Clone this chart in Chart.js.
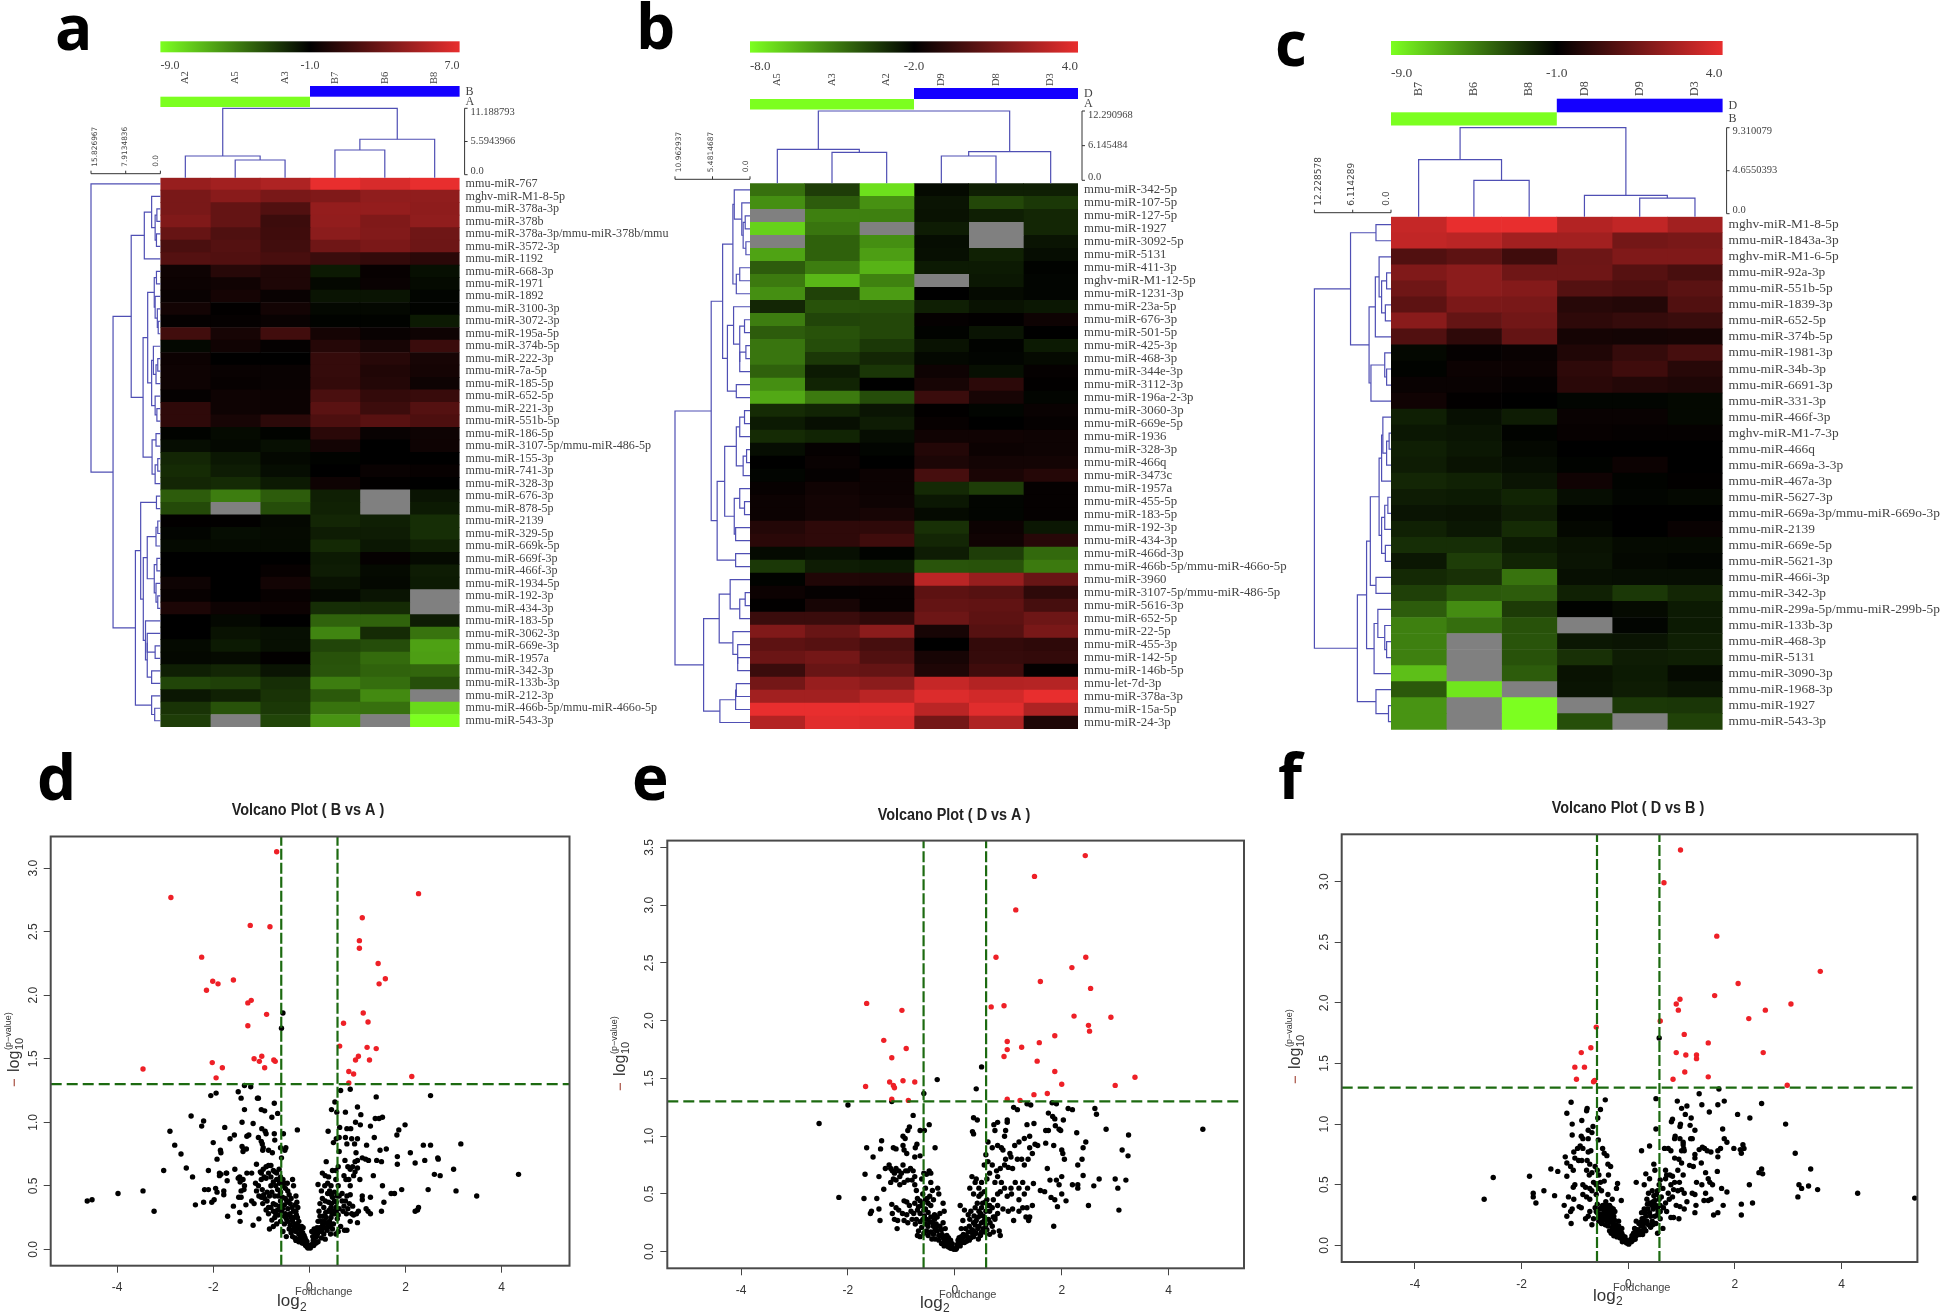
<!DOCTYPE html>
<html>
<head>
<meta charset="utf-8">
<title>miRNA heatmaps and volcano plots</title>
<script src="https://cdn.jsdelivr.net/npm/chart.js@4"></script>
<style>
  html, body { margin: 0; padding: 0; background: #fff; }
  body { width: 1946px; height: 1315px; position: relative; overflow: hidden; }
  canvas { position: absolute; }
</style>
</head>
<body>
<script>
// levels run -10 (full green) .. 0 (black) .. 10 (full red), null is a missing (grey) cell
var namesA = ["mmu-miR-767","mghv-miR-M1-8-5p","mmu-miR-378a-3p","mmu-miR-378b","mmu-miR-378a-3p/mmu-miR-378b/mmu","mmu-miR-3572-3p","mmu-miR-1192","mmu-miR-668-3p","mmu-miR-1971","mmu-miR-1892","mmu-miR-3100-3p","mmu-miR-3072-3p","mmu-miR-195a-5p","mmu-miR-374b-5p","mmu-miR-222-3p","mmu-miR-7a-5p","mmu-miR-185-5p","mmu-miR-652-5p","mmu-miR-221-3p","mmu-miR-551b-5p","mmu-miR-186-5p","mmu-miR-3107-5p/mmu-miR-486-5p","mmu-miR-155-3p","mmu-miR-741-3p","mmu-miR-328-3p","mmu-miR-676-3p","mmu-miR-878-5p","mmu-miR-2139","mmu-miR-329-5p","mmu-miR-669k-5p","mmu-miR-669f-3p","mmu-miR-466f-3p","mmu-miR-1934-5p","mmu-miR-192-3p","mmu-miR-434-3p","mmu-miR-183-5p","mmu-miR-3062-3p","mmu-miR-669e-3p","mmu-miR-1957a","mmu-miR-342-3p","mmu-miR-133b-3p","mmu-miR-212-3p","mmu-miR-466b-5p/mmu-miR-466o-5p","mmu-miR-543-3p"];
var samplesA = ["A2","A5","A3","B7","B6","B8"];
var heatA = [
  [6.5,7,7.5,10,9.3,10],[5.2,5.9,5.2,5.5,6.2,6.2],[5.2,4.3,3.5,6.4,6.4,6.1],[5.5,4.3,2.6,6.3,5.5,6.2],
  [4.4,3.4,2.7,6,5.6,4.8],[3.2,3.6,2.8,4.8,5.3,4.7],[3.6,3.5,3.1,2.5,2.2,1.8],[.6,1.7,1.3,-1,.3,-.6],
  [.5,.7,1.3,-.3,.4,-.4],[.4,.9,.4,-.8,-.8,-.2],[.8,.1,.8,-.3,-.3,-.1],[.2,.2,.4,-.1,-.1,-1],
  [2.8,1,2.8,.9,.4,.6],[-.3,.7,.2,1.6,1,2.5],[.5,0,0,2.3,1.7,1],[.6,.4,.4,2.3,1.4,.9],
  [.6,.3,.4,2.2,1.5,.6],[.2,.6,.5,3.2,2.2,2.4],[2,.6,.5,3.9,2.6,3.6],[2,1,1.9,3.3,3.8,3.3],
  [-.1,-.4,-.1,1.8,.4,.6],[-.5,-.3,-.6,.8,0,.6],[-1.5,-.9,-.3,-.1,0,0],[-1.7,-1.1,-.5,0,.4,.3],
  [-1.5,-1.7,-1,.6,.1,0],[-3.6,-4.9,-3.6,-1.2,null,-.8],[-2.9,null,-3,-1.3,null,-1],[.1,.1,-.3,-1.5,-1.2,-1.8],
  [-.2,-.5,-.4,-1.1,-1.1,-1.8],[-.4,-.4,-.4,-1.6,-.9,-1.3],[0,0,0,-1,.2,-.4],[0,0,.3,-1.1,-.4,-1.1],
  [.6,0,.8,-.7,-.3,-1],[.3,0,.3,-.3,-.8,null],[1.2,.6,.5,-1.8,-1.7,null],[0,-.3,0,-3.9,-3.9,-1.1],
  [0,-.7,-.6,-5.2,-1.7,-4.5],[-.4,-1,-.6,-2.7,-3,-6.3],[-.3,-.4,.1,-3.2,-4.2,-6.2],[-1.2,-1.5,-.8,-3.3,-3.9,-4],
  [-2.7,-2.5,-1.8,-4.9,-4.3,-3.1],[-.9,-1.3,-2,-3.5,-5.4,null],[-2,-3.2,-2.2,-4.5,-4.4,-8.5],[-2.4,null,-2.7,-5.8,null,-10]
];
var colTreeA = [11.19,[3.5,0,[2.85,1,2]],[6.2,[4.47,3,4],5]];
var rowTreeA = [15.83,0,[10.8,
  [6.66,
    [3.67,[2,1,[1.2,[.8,2,3],[.9,4,5]]],6],
    [3.95,
      [2.9,[1.4,[.9,7,8],[1.2,9,[.7,10,[.5,11,12]]]],[2,[1.6,13,[1,[.6,14,15],16]],[1.2,17,[.8,18,19]]]],
      [1.9,[1,20,21],[1.2,[.6,22,23],24]]]],
  [5.7,
    [4.5,[.9,25,26],
      [3.9,[3,[1,[.6,27,28],29],[1.4,[.8,30,31],[1,32,[.6,33,34]]]],
        [3.4,35,[3,[3,36,[1.2,37,38]],[2,39,40]]]]],
    [2,41,[1.3,42,43]]]]];

var namesB = ["mmu-miR-342-5p","mmu-miR-107-5p","mmu-miR-127-5p","mmu-miR-1927","mmu-miR-3092-5p","mmu-miR-5131","mmu-miR-411-3p","mghv-miR-M1-12-5p","mmu-miR-1231-3p","mmu-miR-23a-5p","mmu-miR-676-3p","mmu-miR-501-5p","mmu-miR-425-3p","mmu-miR-468-3p","mmu-miR-344e-3p","mmu-miR-3112-3p","mmu-miR-196a-2-3p","mmu-miR-3060-3p","mmu-miR-669e-5p","mmu-miR-1936","mmu-miR-328-3p","mmu-miR-466q","mmu-miR-3473c","mmu-miR-1957a","mmu-miR-455-5p","mmu-miR-183-5p","mmu-miR-192-3p","mmu-miR-434-3p","mmu-miR-466d-3p","mmu-miR-466b-5p/mmu-miR-466o-5p","mmu-miR-3960","mmu-miR-3107-5p/mmu-miR-486-5p","mmu-miR-5616-3p","mmu-miR-652-5p","mmu-miR-22-5p","mmu-miR-455-3p","mmu-miR-142-5p","mmu-miR-146b-5p","mmu-let-7d-3p","mmu-miR-378a-3p","mmu-miR-15a-5p","mmu-miR-24-3p"];
var samplesB = ["A5","A3","A2","D9","D8","D3"];
var heatB = [
  [-4.4,-2.4,-8.8,-.4,-1.2,-1.2],[-5.6,-3.6,-5.7,-.8,-2.8,-2.2],[null,-5,-5,-.7,-1.2,-1.5],[-8.2,-4.6,null,-1.1,null,-1.5],
  [null,-3.8,-5.6,-.5,null,-.8],[-6.4,-3.8,-6.2,-.6,-1.3,-.5],[-3.6,-4.9,-7,-1,-1,-.1],[-4.8,-7.2,-5.1,null,-.9,-.2],
  [-5.6,-2.6,-6.1,0,-.4,-.2],[-1.5,-3.2,-3.1,-1.2,-.7,-.9],[-4.9,-2.7,-2.8,.2,.1,.6],[-3.6,-3.2,-2.8,-.1,-.8,0],
  [-4.6,-3,-2.2,-.7,-.1,-1],[-4.6,-2.2,-1.5,-.3,-.2,-.4],[-3.8,-1,-2.1,.6,-.6,.2],[-5.6,-1.4,0,1,1.9,.1],
  [-6.6,-4.8,-3,2.5,1,-.2],[-1.7,-1.4,-.8,.1,-.2,.4],[-1,-.6,-1.1,.3,0,.2],[-1.7,-1.4,-.5,.7,.7,.6],
  [-.5,.2,-.2,1.5,.5,.6],[0,.4,0,1.2,.8,.8],[-.2,.2,.5,3,1.1,1.6],[.3,.7,.5,-1.6,-2.4,.2],
  [.5,.8,.6,-.9,-.2,.2],[.5,.8,1,-.4,-.2,.2],[1.5,2,2,-1.9,.5,-.9],[1.8,2,2.7,-1.5,.7,1.7],
  [-.4,-.6,-.1,-1.1,-2.4,-4.1],[-2.2,-1.1,-1,-3.3,-3.2,-4.8],[-.1,1.4,1.3,8,6.5,4.5],[.5,.2,.3,4,3.7,2],
  [.1,1,.3,4.3,4.2,3],[2.5,2.5,2,4.7,4,4.7],[5.5,4.5,6,1,3.7,5.2],[4,3.7,3,0,2.2,2],
  [4.6,5,3.5,1,2.3,2.2],[2.5,4.5,4.3,1.3,2.7,.2],[5,6.5,6,8.5,7.7,7.8],[7,7,8,9.5,9,10],
  [10,10,10,8,9.7,7.5],[7.7,9.7,9.5,5,7.5,1.3]
];
var colTreeB = [12.29,[5.77,0,[5.26,1,2]],[5.38,[4.64,3,4],5]];
var rowTreeB = [10.96,
  [5.67,
    [4,
      [2.5,[2.3,0,[1.2,1,[1,[.7,2,3],[.6,4,5]]]],[2,[1.5,6,7],8]],
      [3.3,[2.4,9,[1.5,[.8,10,11],[1.5,[.6,12,13],14]]],[2,15,16]]],
    [4.8,
      [3.7,[2,[1.5,[.8,17,18],19],[1,[.5,20,21],22]],[2.3,[1.5,23,[.8,24,25]],[2.1,26,27]]],
      [2.1,28,29]]],
  [6.78,
    [4.5,
      [2.9,30,[1.5,[.7,31,32],33]],
      [2.5,34,[1.8,35,[1.8,36,37]]]],
    [4.4,[2.1,[2,38,39],40],41]]];

var namesC = ["mghv-miR-M1-8-5p","mmu-miR-1843a-3p","mghv-miR-M1-6-5p","mmu-miR-92a-3p","mmu-miR-551b-5p","mmu-miR-1839-3p","mmu-miR-652-5p","mmu-miR-374b-5p","mmu-miR-1981-3p","mmu-miR-34b-3p","mmu-miR-6691-3p","mmu-miR-331-3p","mmu-miR-466f-3p","mghv-miR-M1-7-3p","mmu-miR-466q","mmu-miR-669a-3-3p","mmu-miR-467a-3p","mmu-miR-5627-3p","mmu-miR-669a-3p/mmu-miR-669o-3p","mmu-miR-2139","mmu-miR-669e-5p","mmu-miR-5621-3p","mmu-miR-466i-3p","mmu-miR-342-3p","mmu-miR-299a-5p/mmu-miR-299b-5p","mmu-miR-133b-3p","mmu-miR-468-3p","mmu-miR-5131","mmu-miR-3090-3p","mmu-miR-1968-3p","mmu-miR-1927","mmu-miR-543-3p"];
var samplesC = ["B7","B6","B8","D8","D9","D3"];
var heatC = [
  [8.5,10,10,7.7,8.3,7],[8.3,8,7,7,5,5.2],[3.5,4,2.7,4.7,5.5,5.5],[5.5,6,4.8,4.8,3.7,3.1],
  [4.8,6,5.7,3.6,3.3,3.9],[4,5.3,5.2,1.7,1.5,3.5],[5.9,4.3,4.9,2,2.3,2.5],[3.5,2,4.3,.9,.8,.9],
  [-.3,.2,.4,1.4,2.3,3],[-.1,.5,.5,2,2.7,1.7],[.4,.4,.2,1.8,1.5,1.3],[.7,.1,0,-.2,-.2,-.3],
  [-1.2,-.6,-1.1,.4,.4,-.3],[-.9,-.8,-.1,.3,.2,.2],[-1.2,-.9,-.3,0,0,0],[-1.1,-.7,-.5,-.1,.5,0],
  [-1.5,-1.3,-.8,.7,-.1,.1],[-1.1,-1,-1.4,-.5,-.2,-.3],[-.8,-.7,-1.1,-.1,0,0],[-1.3,-.9,-1.7,-.3,0,.4],
  [-1.8,-1.8,-1,-.7,-.4,-.4],[-.9,-2.4,-1.4,-.8,-.3,-.2],[-1.6,-1.9,-4.5,-.6,-.5,-.5],[-2.5,-3.5,-3.6,-1.3,-2.2,-1.5],
  [-3.6,-5.5,-2.3,-.1,-.4,-1],[-5,-4.3,-3.2,null,-.2,-1],[-5,null,-3.3,-.9,-.8,-1.2],[-5,null,-3.2,-1.9,-1.1,-1.2],
  [-7.5,null,-3.6,-.7,-1,-.4],[-3.5,-9,null,-.8,-1.1,-.8],[-5.8,null,-10,null,-2.2,-2.1],[-5.8,null,-10,-3.1,null,-2.6]
];
var colTreeC = [9.31,[5.96,0,[3.8,1,2]],[2.23,3,[1.95,4,5]]];
var rowTreeC = [12.23,
  [6.46,
    [2.4,0,1],
    [3.5,
      [2.5,[1.9,2,[1.5,[.7,3,4],[.9,5,6]]],7],
      [3.2,[1,8,[.7,9,10]],11]]],
  [5.37,
    [3.9,
      [3.3,[1.9,[1.5,[1.3,12,[.7,[.3,13,14],15]],16],[1.5,[1,[.5,17,18],19],[.9,20,21]]],[2.4,22,23]],
      [2.7,[2.1,24,[1,25,[.7,26,27]]],28]],
    [2.4,29,[.4,30,31]]]];

var volcanoXTicks = [-4,-2,0,2,4];
var thresholdFC = 0.585;
var thresholdP = 1.301;

var redD = [[-.68,3.13],[-2.88,2.77],[2.27,2.8],[1.1,2.61],[-1.23,2.55],[-.82,2.54],[1.04,2.43],[1.04,2.37],[-2.24,2.3],[1.43,2.25],[-2.01,2.11],[-1.9,2.09],[-1.58,2.12],[-2.14,2.04],[1.58,2.13],[1.45,2.09],[-1.21,1.96],[-1.28,1.94],[1.12,1.86],[-.89,1.85],[1.22,1.79],[.71,1.78],[-1.28,1.76],[.63,1.6],[1.2,1.59],[1.39,1.58],[-.99,1.52],[1.02,1.52],[-1.15,1.5],[-.74,1.49],[-.71,1.48],[-2.02,1.47],[-1.04,1.48],[.96,1.49],[1.25,1.49],[-1.81,1.43],[-.93,1.43],[-3.46,1.42],[.82,1.4],[.92,1.38],[2.13,1.36],[-1.94,1.35],[.82,1.31]];
var blackD = [[-.55,1.86],[-.58,1.74],[-1.35,1.29],[-1.22,1.28],[-1.48,1.24],[-2.05,1.21],[-1.94,1.23],[-1.42,1.19],[-1.08,1.19],[-1.06,1.19],[-.73,1.15],[-1.35,1.1],[-1,1.1],[-.93,1.09],[-.66,1.07],[-2.46,1.05],[-.78,1.04],[-2.2,1.01],[-2.24,.97],[-1.4,1],[-1.17,.99],[-1.76,.96],[-.99,.95],[-.92,.93],[-2.9,.93],[-.25,.94],[-1.26,.9],[-1.3,.89],[-.9,.91],[-.73,.91],[-.54,.91],[-1.56,.9],[-1.65,.87],[-1.06,.88],[-.72,.86],[-1,.85],[-.98,.83],[-2,.84],[-2.8,.82],[-.96,.8],[-1.4,.81],[-1.37,.79],[-1.31,.79],[-.49,.8],[-.6,.8],[-.51,.78],[-1.85,.78],[-1.84,.76],[-.97,.78],[-.85,.78],[-.77,.76],[-1.38,.77],[-2.67,.75],[-1.92,.71],[-.58,.72],[-1.1,.67],[-.85,.66],[-.8,.66],[-.9,.65],[-.96,.63],[-.63,.63],[-2.56,.64],[-1.55,.63],[-1.2,.6],[-1.02,.61],[-1,.6],[-3.03,.62],[-2.1,.62],[-1.84,.59],[-1.72,.6],[-1.87,.58],[-1.3,.6],[-.94,.57],[-.8,.57],[-.65,.55],
  [-1.45,.57],[-1.48,.56],[-1.44,.53],[-1.38,.55],[-1.35,.5],[-1.36,.47],[-1.42,.46],[-1.47,.41],[-1.42,.41],[-1.45,.29],[-1.44,.22],[-1.17,.19],[-1.32,.35],[-1.2,.38],[-1.15,.36],[-1.1,.46],[-1.05,.42],[-1,.41],[-.97,.36],[-.9,.31],[-.85,.33],[-.95,.43],[-.88,.45],[-.8,.5],[-.75,.53],[-.7,.5],[-.68,.55],[-.62,.52],[-.55,.5],[-.5,.48],[-.45,.46],[-.42,.43],[-.35,.55],[-.33,.5],[-.28,.42],[-.38,.4],[-.47,.38],[-.52,.35],[-.6,.38],[-.65,.42],[-.7,.35],[-.75,.3],[-.72,.25],[-.65,.27],[-.58,.3],[-.5,.28],[-.45,.32],[-.4,.28],[-.33,.3],[-.28,.3],[-.25,.25],[-.35,.22],[-.45,.22],[-.52,.2],[-.6,.22],[-.68,.2],[-.75,.18],[-.83,.16],[-.78,.23],[-.85,.28],[-1.05,.24],[-.55,.14],[-.48,.1],[-.42,.16],[-.38,.13],[-.32,.18],[-.28,.14],[-.24,.19],[-.22,.12],[-.3,.09],[-.35,.1],[-.25,.08],[-.2,.07],[-.17,.1],[-.14,.13],[-.18,.15],[-.12,.08],[-.1,.05],[-.08,.03],[-.05,.02],[-.03,.01],[-.02,.03],[-.15,.05],[-.09,.09],
  [-.98,.47],[-.93,.4],[-.88,.38],[-.83,.42],[-.78,.45],[-.72,.42],[-.66,.47],[-.6,.45],[-.56,.41],[-.5,.4],[-.44,.37],[-.4,.36],[-.36,.33],[-.3,.35],[-.26,.37],[-.24,.33],[-.8,.33],[-.75,.36],[-.7,.28],[-.66,.31],[-.62,.34],[-.56,.32],[-.52,.26],[-.48,.24],[-.43,.27],[-.38,.25],[-.32,.25],[-.27,.27],[-.22,.22],[-.2,.17],[-.26,.16],[-.3,.2],[-.35,.15],[-.4,.19],[-.16,.18],[-.13,.17],[-.11,.11],[-.07,.07],[-.05,.06],[-.13,.05],[-.19,.11],[-.22,.06],[-.28,.07],[-.72,.61],[-.68,.6],[-.6,.57],[-.55,.55],[-.52,.52],[-.46,.52],[-.75,.62],[-.85,.6],[-.9,.56],[-1,.55],[-1.06,.5],[-1.12,.52],
  [-4.62,.38],[-4.52,.39],[-3.98,.44],[-3.46,.46],[-3.23,.3],[-2.43,.57],[-2.37,.35],[-2.2,.37],[-2.18,.47],[-2.1,.47],[-2.03,.37],[-1.98,.39],[-1.95,.48],[-1.92,.45],[-1.87,.6],[-1.7,.26],[-1.58,.34],[-1.78,.43],[-1.78,.46],[-1.71,.54],[-1.73,.6],
  [.65,1.25],[.85,1.26],[.53,1.16],[.46,1.1],[.57,1.08],[.75,1.08],[1,1.12],[1.07,1.06],[.63,.96],[1.39,1.2],[2.52,1.21],[1.37,1.03],[1.45,1.03],[1.52,1.04],[.96,1],[1.06,.98],[1.27,.97],[1.99,.98],[1.86,.94],[1.82,.9],[.39,.93],[.78,.95],[.86,.95],[.56,.87],[.62,.88],[.75,.88],[.88,.87],[1,.87],[1.35,.88],[.5,.84],[.78,.83],[.94,.83],[1.19,.82],[2.37,.82],[2.52,.82],[3.15,.83],[.62,.77],[.97,.76],[1.47,.78],[1.6,.79],[1.83,.73],[1.1,.72],[1.17,.71],[1.23,.7],[1.4,.7],[1.5,.69],[2.1,.76],[2.4,.7],[2.67,.72],[2.68,.71],[3,.63],[2.2,.68],[1.83,.67],[.35,.69],[.74,.7],[.95,.69],[1,.7],[.9,.65],[.85,.63],[.95,.61],[1,.64],[.8,.65],[.6,.65],[.55,.62],[.48,.62],[.27,.6],[.33,.58],[.4,.57],[.72,.58],[.76,.55],[.82,.55],[1.05,.55],[1.33,.58],[.92,.58],[1.52,.5],[.55,.55],[.6,.5],[.45,.5],[.38,.52],[.18,.51],[.25,.46],[.32,.5],[.42,.46],[.52,.45],[.58,.42],[.68,.44],[.85,.43],[.75,.38],[.83,.36],[1.1,.42],[1.1,.39],[1.27,.41],[1.55,.37],[1.5,.3],[1.7,.44],[1.77,.44],[1.92,.47],[2.47,.47],[2.2,.3],[2.25,.31],[2.27,.33],[3.05,.46],[3.48,.42],[2.6,.59],[2.72,.58],[4.35,.59],[1.02,.3],[.98,.28],[1,.21],[.85,.22],[.92,.27],[1.18,.32],[1.22,.3],[1.27,.28],[.62,.32],[.7,.3],[.77,.28],[.73,.15],[.78,.15],[.65,.18],[.6,.14],[.55,.12],[.5,.2],[.45,.25],[.4,.3],[.33,.38],[.27,.4],[.22,.36],[.3,.33],[.35,.25],[.42,.22],[.48,.16],[.38,.18],[.3,.22],[.27,.18],[.22,.26],[.18,.22],[.2,.14],[.15,.1],[.3,.12],[.33,.08],[.25,.09],[.1,.16],[.05,.14],[.12,.05],[.08,.07],[.06,.04],[.03,.03],[.18,.06],[.14,.15],[.07,.1],[.02,.01],[.55,.33],[.6,.27],[.5,.3],[.45,.33],[.4,.37],[.52,.38],[.58,.24],[.47,.28],[.37,.15],[.28,.26],[.85,.5],[.9,.34],[.8,.32],
  [.2,.3],[.24,.22],[.28,.2],[.32,.17],[.36,.21],[.4,.2],[.44,.18],[.34,.29],[.42,.31],[.46,.36],[.48,.41],[.56,.37],[.16,.17],[.12,.12],[.1,.08],[.17,.12],[.22,.17],[.26,.14],[.09,.03],[.14,.05],[.38,.44],[.46,.43],[.56,.29],[.44,.12],[.52,.28],[.62,.42],[.68,.38],[.72,.34],[.78,.42],[.88,.28]];

var redE = [[2.44,3.43],[1.49,3.25],[1.14,2.96],[.77,2.55],[2.45,2.55],[2.19,2.46],[1.6,2.34],[2.54,2.28],[-1.65,2.15],[.68,2.12],[.92,2.13],[-.99,2.09],[2.23,2.04],[2.92,2.03],[2.5,1.96],[2.52,1.91],[1.87,1.87],[-1.33,1.83],[.98,1.82],[1.58,1.81],[-.91,1.76],[.98,1.75],[1.25,1.77],[.92,1.69],[-1.18,1.68],[1.54,1.65],[1.87,1.56],[3.37,1.51],[-.97,1.48],[-1.22,1.47],[-.75,1.47],[-1.15,1.44],[-1.13,1.42],[2,1.45],[3,1.44],[-1.67,1.43],[1.73,1.37],[1.48,1.36],[-1.18,1.32],[-.87,1.31],[.98,1.32],[1.22,1.31]];
var blackE = [[-.58,1.37],[-.33,1.49],[.5,1.6],[.4,1.41],[-2,1.27],[-1.18,1.3],[-2.54,1.11],[-2.17,.47],[-.78,1.18],[-.85,1.08],[-.88,1.05],[-.65,1.05],[-.57,1.05],[-.48,1.1],[-.97,1],[-.93,.98],[-.71,.93],[-.74,.9],[-1.37,.96],[-1.65,.9],[-1.39,.89],[-1.15,.9],[-1.1,.89],[-.95,.88],[-.9,.85],[-.97,.92],[-.37,.9],[-.75,.82],[-.65,.83],[-1.68,.67],[-1.53,.82],
  [-1.23,.75],[-1.2,.72],[-1.17,.7],[-1.13,.68],[-1.1,.72],[-1.05,.7],[-1,.68],[-.97,.75],[-.92,.7],[-.88,.7],[-.83,.72],[-.78,.7],[-.75,.65],[-.8,.62],[-.88,.62],[-.95,.6],[-1.03,.65],[-1.1,.62],[-1.15,.63],[-1.2,.6],[-1.03,.58],[-.75,.58],[-.72,.53],[-1.33,.54],[-1.42,.65],[-1.3,.72],[-.58,.68],[-.53,.67],[-.48,.7],[-.45,.68],[-.62,.63],[-.55,.55],[-.42,.53],[-.32,.55],[-.45,.6],
  [-.7,.46],[-.65,.44],[-.75,.42],[-.6,.5],[-.55,.45],[-.5,.42],[-.45,.4],[-.4,.45],[-.3,.5],[-.22,.42],[-.95,.44],[-.9,.43],[-.85,.4],[-1.18,.41],[-1.1,.38],[-1.05,.36],[-.98,.33],[-.9,.32],[-.82,.35],[-.7,.36],[-.65,.33],[-.58,.36],[-.5,.34],[-.45,.3],[-.38,.32],[-.33,.3],[-.28,.33],[-.2,.35],[-1.7,.46],[-1.46,.46],[-1.42,.37],[-1.58,.33],[-1.56,.35],[-1.4,.27],[-1.17,.33],[-1.13,.28],[-1.07,.27],[-1.08,.2],[-.95,.27],[-.88,.25],[-.72,.28],[-.65,.26],[-.6,.28],[-.55,.24],[-.5,.22],[-.42,.25],[-.35,.24],[-.28,.22],[-.22,.25],[-.18,.2],[-.65,.13],[-.58,.16],[-.7,.14],[-.53,.18],[-.45,.17],[-.4,.15],[-.33,.18],[-.27,.14],[-.22,.12],[-.3,.1],[-.37,.11],[-.2,.09],[-.15,.14],[-.12,.12],[-.16,.07],[-.1,.07],[-.08,.1],[-.06,.05],[-.12,.04],[-.04,.03],[-.02,.02],[-.08,.03],[-.14,.1],
  [-.62,.4],[-.57,.31],[-.53,.28],[-.47,.26],[-.4,.22],[-.37,.19],[-.32,.22],[-.25,.19],[-.24,.15],[-.19,.13],[-.17,.1],[-.12,.08],[-.09,.06],[-.05,.07],[-.2,.05],[-.25,.07],[-.3,.14],[-.43,.11],[-.5,.14],[-.62,.21],[-.68,.18],[-.74,.24],[-.8,.28],[-.77,.33],[-.68,.39],[-.6,.42],[-.52,.46],[-.47,.48],[-.55,.37],[-.38,.28],
  [.35,1.16],[.42,1.14],[.33,1.04],[.35,1.02],[.73,1.1],[.8,1.12],[.75,1.05],[.98,1.14],[.98,1.12],[.95,1.05],[.93,1],[1.35,1.1],[1.48,1.11],[1.1,1.25],[1.17,1.23],[1.35,1.28],[1.42,1.27],[1.82,1.29],[1.9,1.28],[2.12,1.24],[2.2,1.23],[2.62,1.24],[2.65,1.19],[1.75,1.2],[1.83,1.17],[1.87,1.15],[2.03,1.14],[1.88,1.09],[1.95,1.06],[1.98,1.05],[1.75,1.05],[1.7,1.05],[2.28,1.03],[2.83,1.06],[3.25,1.01],[4.64,1.06],[1.4,1],[1.3,.98],[1.2,.95],[1.12,.92],[1.5,.93],[1.55,.92],[1.4,.9],[1.7,.94],[1.85,.92],[2,.88],[2.02,.85],[2.05,.8],[2.45,.95],[2.4,.9],[2.38,.8],[2.3,.75],[3.13,.88],[3.24,.83],[1.45,.85],[1.37,.8],[.62,.95],[.7,.9],[.8,.92],[.87,.9],[.9,.88],[1.03,.85],[1.05,.82],[.95,.8],[.58,.84],[.55,.75],[.62,.78],[.7,.75],[.78,.7],[.85,.72],[.93,.75],[1,.73],[1.08,.72],[1.17,.8],[1.25,.8],[1.3,.75],[.87,.6],[.75,.6],[.8,.65],[.65,.68],[.6,.63],[.5,.6],[.45,.55],[.38,.6],[.32,.65],[.4,.63],[.28,.55],[.35,.5],[.45,.48],[.55,.52],[.6,.45],[.52,.42],[.65,.4],[.72,.45],[.8,.5],[.85,.52],[.93,.55],[1.05,.55],[1.13,.6],[1.2,.55],[1.27,.6],[1.3,.5],[1.36,.55],[1.06,.5],[.98,.48],[1.2,.45],[1.47,.59],[1.6,.53],[1.68,.52],[1.78,.62],[1.73,.72],[1.9,.62],[1.95,.58],[2,.65],[2.2,.58],[2.3,.58],[2.3,.55],[2.4,.66],[2.6,.57],[2.7,.63],[3,.63],[3.05,.55],[3.2,.62],[3.07,.36],[2.5,.4],[1.8,.47],[1.87,.45],[1.92,.39],[2,.5],[2.08,.44],[1.85,.22],[1.45,.4],[1.35,.38],[1.27,.38],[1.2,.35],[1.08,.37],[1,.35],[1.1,.27],[1.33,.3],[1.38,.27],[1.4,.3],[.9,.37],[.8,.4],[.75,.3],[.65,.35],[.58,.35],[.5,.38],[.45,.35],[.38,.38],[.3,.35],[.25,.32],[.18,.36],[.1,.4],[.28,.28],[.35,.25],[.4,.27],[.5,.25],[.58,.23],[.63,.28],[.7,.22],[.75,.28],[.83,.18],[.85,.14],[.72,.17],[.65,.15],[.55,.17],[.5,.17],[.43,.2],[.35,.18],[.27,.22],[.2,.2],[.15,.27],[.12,.2],[.23,.13],[.3,.12],[.35,.13],[.4,.16],[.15,.12],[.1,.1],[.18,.08],[.07,.07],[.05,.05],[.03,.03],[.02,.02],[.1,.05],[.13,.08],[.06,.1],
  [.42,.42],[.48,.33],[.53,.31],[.55,.27],[.45,.22],[.38,.23],[.32,.19],[.25,.17],[.2,.14],[.16,.15],[.12,.13],[.08,.12],[.08,.08],[.04,.06],[.22,.09],[.27,.1],[.33,.16],[.44,.11],[.48,.14],[.53,.2],[.6,.19],[.66,.25],[.72,.3],[.8,.33],[.7,.38],[.62,.4],[.57,.43],[.49,.5],[.44,.3],[.36,.31]];

var redF = [[.98,3.26],[.67,2.99],[1.66,2.55],[3.6,2.26],[2.06,2.16],[1.62,2.06],[.97,2.03],[.9,1.99],[3.05,1.99],[.94,1.94],[2.57,1.94],[2.26,1.87],[.6,1.85],[-.6,1.8],[1.05,1.74],[1.5,1.67],[-.7,1.63],[-.88,1.59],[.9,1.59],[2.53,1.59],[1.08,1.57],[1.28,1.57],[1.28,1.54],[-1,1.47],[-.82,1.47],[1.06,1.43],[1.5,1.39],[-.97,1.37],[.84,1.37],[-.65,1.35],[-.63,1.36],[2.98,1.32]];
var blackF = [[.58,1.71],[-.43,1.2],[.52,1.21],[-1.07,1.18],[-.77,1.13],[-.78,1.11],[-1.15,1.09],[-.52,1.12],[-.87,1.03],[-.57,1.05],[-1.05,1],[-.66,.98],[-.75,.95],[-.68,.93],[-1.05,.91],[-.88,.9],[-.85,.88],[-.75,.88],[-.56,.87],[-.9,.82],[-.85,.8],[-.95,.8],[-1.02,.77],[-.75,.77],[-.7,.78],[-.48,.8],[-.45,.76],[-.4,.74],[-1.18,.73],[-1,.72],[-.93,.7],[-.87,.7],[-.77,.7],[-.72,.67],[-.62,.65],[-.58,.62],[-.38,.67],[-.33,.65],[-1.15,.68],[-1.08,.65],[-1.03,.62],[-.78,.62],[-.73,.58],[-.68,.6],[-.55,.58],[-.52,.52],[-.45,.53],[-1.45,.63],[-1.32,.61],[-1.15,.57],[-.37,.58],[-1,.5],[-1.03,.48],[-.85,.5],[-.8,.48],[-.72,.47],[-.65,.52],[-.6,.5],[-.55,.47],[-.5,.45],[-.6,.42],[-.85,.42],[-.78,.4],[-.72,.38],[-.68,.45],[-1.12,.4],[-1.02,.38],[-1.2,.33],[-1.05,.3],[-1.08,.28],[-.92,.32],[-.88,.31],[-1.15,.24],[-1.07,.18],[-.8,.22],[-.75,.24],[-.72,.28],[-.68,.17],[-.65,.22],[-.6,.28],[-.58,.34],[-.53,.3],[-.5,.26],[-.45,.3],[-.42,.36],[-.38,.42],[-.3,.38],[-.2,.51],[-.22,.47],[-.13,.37],
  [-2.7,.38],[-2.53,.56],[-1.85,.57],[-1.78,.43],[-1.78,.4],[-1.73,.35],[-1.58,.45],[-1.38,.41],[-.38,.3],[-.35,.25],[-.3,.22],[-.4,.2],[-.45,.22],[-.5,.18],[-.55,.2],[-.42,.26],[-.48,.33],[-.35,.33],[-.25,.28],[-.3,.15],[-.23,.17],[-.18,.2],[-.2,.13],[-.25,.11],[-.32,.1],[-.15,.1],[-.12,.14],[-.13,.07],[-.1,.08],[-.07,.05],[-.05,.03],[-.03,.02],[-.09,.04],[-.15,.06],[-.28,.3],[-.33,.28],[-.37,.24],[-.27,.24],[-.45,.27],[-.52,.23],
  [-.4,.33],[-.43,.29],[-.47,.25],[-.41,.23],[-.36,.28],[-.32,.31],[-.3,.26],[-.26,.21],[-.34,.19],[-.38,.16],[-.35,.12],[-.28,.12],[-.22,.1],[-.18,.16],[-.15,.13],[-.12,.1],[-.18,.08],[-.08,.06],[-.11,.03],[-.06,.07],[-.02,.04],[-.21,.07],[-.27,.08],[-.24,.14],[-.28,.18],[-.31,.12],[-.36,.21],[-.43,.17],[-.47,.21],[-.55,.25],[-.58,.27],[-.62,.31],[-.5,.31],
  [1.7,1.29],[1.33,1.25],[.92,1.19],[1.38,1.16],[1.68,1.16],[1.8,1.19],[1,1.13],[1.1,1.15],[1.52,1.1],[2.05,1.08],[2.28,1.05],[2.5,1.17],[1.07,1.08],[1.18,1.05],[.83,1.04],[.81,1.02],[.98,1],[.97,.98],[1.16,.99],[1.25,.95],[2.95,1],[1.77,.96],[.52,.96],[.88,.9],[.87,.88],[.97,.88],[1.03,.85],[1.17,.88],[1.2,.88],[1.03,.83],[1.04,.8],[1.05,.78],[1,.78],[.4,.82],[.25,.78],[.68,.8],[.75,.8],[.8,.78],[1.33,.79],[1.39,.81],[1.43,.8],[1.48,.78],[1.55,.77],[1.8,.88],[1.85,.85],[1.73,.8],[1.68,.78],[1.68,.73],[1.98,.8],[2.1,.79],[2.15,.83],[2.17,.8],[2.12,.76],[3.13,.76],[1.25,.75],[1.25,.72],[.87,.72],[.95,.71],[1,.68],[1.37,.68],[1.15,.66],[1.22,.65],[.48,.67],[.5,.62],[.93,.62],[1.03,.58],[1.45,.6],[1.67,.61],[2.5,.63],[2.45,.6],[2.52,.59],[3.42,.63],[.33,.59],[.4,.55],[.7,.62],[.72,.58],[.78,.58],[.83,.57],[.6,.54],[.58,.5],[.7,.55],[.87,.52],[.96,.52],[1.28,.52],[1.38,.5],[1.5,.55],[1.53,.52],[1.58,.5],[2.27,.5],[3.2,.5],[3.25,.47],[3.38,.49],[3.55,.46],[3.18,.4],[4.3,.43],[5.37,.39],[.15,.52],[.3,.5],[.8,.5],[.65,.47],[.55,.45],[.45,.45],[.38,.43],[.75,.43],[.85,.46],[.93,.45],[1,.46],[1.05,.43],[1.2,.43],[1.25,.42],[1.45,.43],[1.55,.38],[1.5,.37],[1.42,.37],[1.75,.47],[1.85,.44],[1.78,.33],[1.68,.27],[1.6,.25],[2.12,.34],[2.12,.25],[2.33,.35],[.35,.38],[.5,.37],[.6,.33],[.7,.35],[.77,.38],[.83,.4],[.9,.33],[.97,.32],[1.05,.3],[1.1,.36],[1.27,.33],[1.25,.27],[.95,.22],[.8,.23],[.85,.23],[.6,.28],[.47,.3],[.55,.25],[.4,.27],[.3,.3],[.25,.27],[.35,.2],[.45,.2],[.52,.18],[.6,.22],[.65,.14],[.55,.1],[.28,.22],[.2,.18],[.15,.2],[.12,.14],[.18,.13],[.25,.12],[.3,.14],[.1,.1],[.15,.08],[.22,.09],[.07,.08],[.05,.05],[.03,.03],[.01,.01],[.08,.04],[.13,.05],
  [.48,.41],[.52,.33],[.56,.28],[.44,.33],[.42,.24],[.37,.3],[.33,.24],[.38,.17],[.42,.15],[.46,.17],[.5,.24],[.55,.31],[.3,.18],[.24,.16],[.2,.12],[.17,.09],[.27,.09],[.33,.12],[.11,.06],[.06,.03],[.14,.11],[.09,.07],[.23,.19],[.26,.22],[.31,.27],[.36,.34],[.41,.35],[.47,.36],[.53,.42],[.58,.38],[.62,.4],[.66,.31],[.72,.28]];

var DENDRO_COLOR = "#4f4fb4";
var LABEL_COLOR = "#444";

function levelColor(v) {
  if (v === null) return "#808080";
  var t = Math.min(1, Math.abs(v) / 10);
  if (v >= 0) return "rgb(" + Math.round(232 * t) + "," + Math.round(46 * t) + "," + Math.round(46 * t) + ")";
  return "rgb(" + Math.round(124 * t) + "," + Math.round(255 * t) + "," + Math.round(32 * t) + ")";
}

function addCanvas(left, top, width, height) {
  var c = document.createElement("canvas");
  c.width = width;
  c.height = height;
  c.style.left = left + "px";
  c.style.top = top + "px";
  c.style.width = width + "px";
  c.style.height = height + "px";
  document.body.appendChild(c);
  return c;
}

function putText(ctx, text, x, y, font, color, align, angle) {
  ctx.save();
  ctx.translate(x, y);
  if (angle) ctx.rotate(angle);
  ctx.font = font;
  ctx.fillStyle = color;
  ctx.textAlign = align || "left";
  ctx.textBaseline = "middle";
  ctx.fillText(text, 0, 0);
  ctx.restore();
}

function putLetter(ctx, letter, x, baseline) {
  ctx.save();
  ctx.font = 'bold 62px "Open Sans"';
  ctx.fillStyle = "#000";
  ctx.textAlign = "left";
  ctx.textBaseline = "alphabetic";
  ctx.fillText(letter, x, baseline);
  ctx.restore();
}

// walks a [height, childA, childB] tree and strokes it, returns the node's position and height
function drawTree(ctx, node, toPoint) {
  if (typeof node === "number") return { pos: node, h: 0 };
  var a = drawTree(ctx, node[1], toPoint);
  var b = drawTree(ctx, node[2], toPoint);
  var h = node[0];
  var p1 = toPoint(a.pos, a.h), p2 = toPoint(a.pos, h), p3 = toPoint(b.pos, h), p4 = toPoint(b.pos, b.h);
  ctx.beginPath();
  ctx.moveTo(p1[0], p1[1]);
  ctx.lineTo(p2[0], p2[1]);
  ctx.lineTo(p3[0], p3[1]);
  ctx.lineTo(p4[0], p4[1]);
  ctx.stroke();
  return { pos: (a.pos + b.pos) / 2, h: h };
}

function heatDecor(p) {
  return {
    id: "heatDecor",
    afterDraw: function (chart) {
      var ctx = chart.ctx, area = chart.chartArea, x = chart.scales.x, y = chart.scales.y;
      var serif = '"Liberation Serif"';
      ctx.save();

      putLetter(ctx, p.letter, p.letterX, p.letterY);

      var grad = ctx.createLinearGradient(area.left, 0, area.right, 0);
      grad.addColorStop(0, levelColor(-10));
      grad.addColorStop(0.5, "#000");
      grad.addColorStop(1, levelColor(10));
      ctx.fillStyle = grad;
      ctx.fillRect(area.left, p.barTop, area.width, p.barBottom - p.barTop);
      var tickFont = p.tickFont + "px " + serif;
      putText(ctx, p.legend[0], area.left, p.legendY, tickFont, LABEL_COLOR, "left");
      putText(ctx, p.legend[1], area.left + area.width * 0.5, p.legendY, tickFont, LABEL_COLOR, "center");
      putText(ctx, p.legend[2], area.right, p.legendY, tickFont, LABEL_COLOR, "right");

      p.samples.forEach(function (s, i) {
        putText(ctx, s, x.getPixelForValue(i + 0.5), p.sampleY, p.sampleFont + "px " + serif, LABEL_COLOR, "left", -Math.PI / 2);
      });

      var mid = x.getPixelForValue(3);
      ctx.fillStyle = "#1400ff";
      ctx.fillRect(mid, p.blueTop, area.right - mid, p.groupMid - p.blueTop);
      ctx.fillStyle = "#7cff20";
      ctx.fillRect(area.left, p.groupMid, mid - area.left, p.groupBottom - p.groupMid);
      putText(ctx, p.groups[0], area.right + 6, (p.blueTop + p.groupMid) / 2, "12px " + serif, LABEL_COLOR, "left");
      putText(ctx, p.groups[1], area.right + 6, (p.groupMid + p.groupBottom) / 2, "12px " + serif, LABEL_COLOR, "left");

      ctx.strokeStyle = DENDRO_COLOR;
      ctx.lineWidth = 1.2;
      var colK = (area.top - p.colTreeTop) / p.colTree[0];
      drawTree(ctx, p.colTree, function (pos, h) { return [x.getPixelForValue(pos + 0.5), area.top - h * colK]; });
      var rowK = (area.left - p.rowTreeLeft) / p.rowTree[0];
      drawTree(ctx, p.rowTree, function (pos, h) { return [area.left - h * rowK, y.getPixelForValue(pos)]; });

      // scale brackets for the two dendrograms
      ctx.strokeStyle = "#333";
      ctx.lineWidth = 1;
      var sx = area.right + p.scaleGap, bot = area.top - 3, midY = (p.colTreeTop + bot) / 2;
      ctx.beginPath();
      ctx.moveTo(sx + 3, p.colTreeTop); ctx.lineTo(sx, p.colTreeTop); ctx.lineTo(sx, bot); ctx.lineTo(sx + 3, bot);
      ctx.moveTo(sx, midY); ctx.lineTo(sx + 3, midY);
      ctx.stroke();
      var scaleFont = "10.5px " + serif;
      putText(ctx, p.colScale[0], sx + 6, p.colTreeTop + 4, scaleFont, LABEL_COLOR, "left");
      putText(ctx, p.colScale[1], sx + 6, midY, scaleFont, LABEL_COLOR, "left");
      putText(ctx, p.colScale[2], sx + 6, bot - 3, scaleFont, LABEL_COLOR, "left");

      var sy = area.top - 4, rl = p.rowTreeLeft, rm = (rl + area.left) / 2;
      ctx.beginPath();
      ctx.moveTo(rl, sy - 3); ctx.lineTo(rl, sy); ctx.lineTo(area.left, sy); ctx.lineTo(area.left, sy - 3);
      ctx.moveTo(rm, sy - 3); ctx.lineTo(rm, sy);
      ctx.stroke();
      var rowFont = p.rowFont + 'px "DejaVu Sans"';
      putText(ctx, p.rowScale[0], rl + 4, sy - 7, rowFont, LABEL_COLOR, "left", -Math.PI / 2);
      putText(ctx, p.rowScale[1], rm - 1, sy - 7, rowFont, LABEL_COLOR, "left", -Math.PI / 2);
      putText(ctx, p.rowScale[2], area.left - 4, sy - 7, rowFont, LABEL_COLOR, "left", -Math.PI / 2);

      ctx.restore();
    }
  };
}

function makeHeatmap(p) {
  var canvas = addCanvas(p.left, 0, p.width, p.height);
  var datasets = p.samples.map(function (s, c) {
    return {
      label: s,
      data: p.values.map(function () { return [c, c + 1]; }),
      backgroundColor: p.values.map(function (row) { return levelColor(row[c]); }),
      borderWidth: 0,
      barPercentage: 1,
      categoryPercentage: 1,
      grouped: false
    };
  });
  new Chart(canvas, {
    type: "bar",
    data: { labels: p.names, datasets: datasets },
    options: {
      indexAxis: "y",
      responsive: false,
      animation: false,
      layout: { padding: { left: p.cellLeft, top: p.cellTop, bottom: p.height - p.cellBottom, right: 0 } },
      plugins: { legend: { display: false }, title: { display: false }, tooltip: { enabled: false } },
      scales: {
        x: { type: "linear", min: 0, max: p.samples.length, display: false },
        y: {
          position: "right",
          grid: { display: false, drawTicks: false },
          border: { display: false },
          afterFit: function (scale) { scale.width = p.width - p.cellRight; },
          ticks: {
            autoSkip: false,
            padding: 6,
            color: LABEL_COLOR,
            font: { family: '"Liberation Serif"', size: p.nameFont }
          }
        }
      }
    },
    plugins: [heatDecor(p)]
  });
}

function volcanoDecor(p) {
  return {
    id: "volcanoDecor",
    afterDraw: function (chart) {
      var ctx = chart.ctx, area = chart.chartArea;
      ctx.save();
      ctx.strokeStyle = "#4a4a4a";
      ctx.lineWidth = 2;
      ctx.strokeRect(area.left, area.top, area.width, area.height);
      putLetter(ctx, p.letter, p.letterX, p.letterY);

      ctx.save();
      ctx.translate(p.titleX, p.titleY);
      ctx.scale(0.9, 1);
      putText(ctx, p.title, 0, 0, 'bold 16px "Liberation Sans"', "#222", "center");
      ctx.restore();

      putText(ctx, "log", p.logX, p.logY, '17px "Liberation Sans"', "#333", "left");
      putText(ctx, "2", p.logX + 23, p.logY + 6, '12px "Liberation Sans"', "#333", "left");
      putText(ctx, "Foldchange", p.foldX, p.foldY, '11px "Liberation Sans"', "#444", "left");

      putText(ctx, "\u2212", p.yLabelX, p.yLabelY, '15px "Liberation Sans"', "#9c3a2a", "left", -Math.PI / 2);
      putText(ctx, "log", p.yLabelX, p.yLabelY - 15, '16px "Liberation Sans"', "#333", "left", -Math.PI / 2);
      putText(ctx, "10", p.yLabelX + 5, p.yLabelY - 37, '11px "Liberation Sans"', "#333", "left", -Math.PI / 2);
      putText(ctx, "(p\u2212value)", p.yLabelX - 6, p.yLabelY - 37, '9px "Liberation Sans"', "#333", "left", -Math.PI / 2);
      ctx.restore();
    }
  };
}

function toPoints(pairs) {
  return pairs.map(function (d) { return { x: d[0], y: d[1] }; });
}

function thresholdLine(points, dash) {
  return { data: points, showLine: true, pointRadius: 0, borderColor: "#1c6a10", borderWidth: 2.2, borderDash: dash };
}

function makeVolcano(p) {
  var canvas = addCanvas(p.left, p.top, p.width, p.height);
  new Chart(canvas, {
    type: "scatter",
    data: {
      datasets: [
        thresholdLine([{ x: -thresholdFC, y: p.yMin }, { x: -thresholdFC, y: p.yMax }], [11, 3]),
        thresholdLine([{ x: thresholdFC, y: p.yMin }, { x: thresholdFC, y: p.yMax }], [11, 3]),
        thresholdLine([{ x: p.xMin, y: thresholdP }, { x: p.xMax, y: thresholdP }], [11, 5]),
        { data: toPoints(p.red), backgroundColor: "#ee2027", borderWidth: 0, pointRadius: 2.7 },
        { data: toPoints(p.black), backgroundColor: "#000", borderWidth: 0, pointRadius: 2.7 }
      ]
    },
    options: {
      responsive: false,
      animation: false,
      layout: { padding: { left: 0, top: p.plotTop, right: p.width - p.plotRight, bottom: 0 } },
      plugins: { legend: { display: false }, title: { display: false }, tooltip: { enabled: false } },
      scales: {
        x: {
          type: "linear", min: p.xMin, max: p.xMax,
          afterBuildTicks: function (scale) { scale.ticks = volcanoXTicks.map(function (v) { return { value: v }; }); },
          afterFit: function (scale) { scale.height = p.height - p.plotBottom; },
          grid: { drawOnChartArea: false, drawTicks: true, tickLength: 7, color: "#444" },
          border: { display: false },
          ticks: { padding: 8, color: "#333", font: { family: '"Liberation Sans"', size: 12 }, maxRotation: 0, callback: function (v) { return String(v); } }
        },
        y: {
          type: "linear", min: p.yMin, max: p.yMax,
          afterBuildTicks: function (scale) { scale.ticks = p.yTicks.map(function (v) { return { value: v }; }); },
          afterFit: function (scale) { scale.width = p.plotLeft; },
          grid: { drawOnChartArea: false, drawTicks: true, tickLength: 7, color: "#444" },
          border: { display: false },
          ticks: { padding: 2, crossAlign: "center", minRotation: 90, maxRotation: 90, color: "#333", font: { family: '"Liberation Sans"', size: 12 }, callback: function (v) { return v.toFixed(1); } }
        }
      }
    },
    plugins: [volcanoDecor(p)]
  });
}

makeHeatmap({
  letter: "a", letterX: 55, letterY: 50,
  left: 0, width: 670, height: 760,
  cellLeft: 160.4, cellRight: 459.6, cellTop: 177.7, cellBottom: 727, nameFont: 12.1,
  names: namesA, samples: samplesA, values: heatA, colTree: colTreeA, rowTree: rowTreeA,
  barTop: 41.3, barBottom: 52.3, legendY: 66, legend: ["-9.0", "-1.0", "7.0"], tickFont: 12,
  sampleY: 84, sampleFont: 10.5, blueTop: 86, groupMid: 96.7, groupBottom: 107, groups: ["B", "A"],
  colTreeTop: 108.3, rowTreeLeft: 91, scaleGap: 5, rowFont: 7.4,
  colScale: ["11.188793", "5.5943966", "0.0"], rowScale: ["15.826967", "7.9134836", "0.0"]
});
makeHeatmap({
  letter: "b", letterX: 6, letterY: 49,
  left: 630, width: 680, height: 760,
  cellLeft: 120, cellRight: 448, cellTop: 183.3, cellBottom: 729, nameFont: 12.8,
  names: namesB, samples: samplesB, values: heatB, colTree: colTreeB, rowTree: rowTreeB,
  barTop: 41.3, barBottom: 52.6, legendY: 67, legend: ["-8.0", "-2.0", "4.0"], tickFont: 13,
  sampleY: 86, sampleFont: 10.5, blueTop: 88, groupMid: 99, groupBottom: 109.5, groups: ["D", "A"],
  colTreeTop: 111, rowTreeLeft: 45, scaleGap: 4, rowFont: 7.5,
  colScale: ["12.290968", "6.145484", "0.0"], rowScale: ["10.962937", "5.4814687", "0.0"]
});
makeHeatmap({
  letter: "c", letterX: 5, letterY: 65.5,
  left: 1270, width: 676, height: 760,
  cellLeft: 121, cellRight: 452.6, cellTop: 216.7, cellBottom: 729.7, nameFont: 13.4,
  names: namesC, samples: samplesC, values: heatC, colTree: colTreeC, rowTree: rowTreeC,
  barTop: 41, barBottom: 55, legendY: 73, legend: ["-9.0", "-1.0", "4.0"], tickFont: 13.5,
  sampleY: 96, sampleFont: 12, blueTop: 98.7, groupMid: 112.3, groupBottom: 125.5, groups: ["D", "B"],
  colTreeTop: 127.7, rowTreeLeft: 44.4, scaleGap: 4, rowFont: 9,
  colScale: ["9.310079", "4.6550393", "0.0"], rowScale: ["12.228578", "6.114289", "0.0"]
});

makeVolcano({
  letter: "d", letterX: 37, letterY: 60, title: "Volcano Plot ( B vs A )", titleX: 308, titleY: 70.6,
  left: 0, top: 740, width: 610, height: 575,
  plotLeft: 50.7, plotRight: 569.5, plotTop: 96.5, plotBottom: 525.7,
  xMin: -5.38, xMax: 5.41, yMin: -0.129, yMax: 3.25, yTicks: [0, 0.5, 1, 1.5, 2, 2.5, 3],
  red: redD, black: blackD,
  logX: 277, logY: 561.6, foldX: 295, foldY: 552, yLabelX: 15, yLabelY: 347
});
makeVolcano({
  letter: "e", letterX: 22, letterY: 60, title: "Volcano Plot ( D vs A )", titleX: 344, titleY: 75.6,
  left: 610, top: 740, width: 650, height: 575,
  plotLeft: 57.3, plotRight: 634, plotTop: 100.6, plotBottom: 528.3,
  xMin: -5.38, xMax: 5.41, yMin: -0.144, yMax: 3.56, yTicks: [0, 0.5, 1, 1.5, 2, 2.5, 3, 3.5],
  red: redE, black: blackE,
  logX: 310, logY: 563, foldX: 329, foldY: 554.5, yLabelX: 11, yLabelY: 351
});
makeVolcano({
  letter: "f", letterX: 8, letterY: 59, title: "Volcano Plot ( D vs B )", titleX: 358, titleY: 68.5,
  left: 1270, top: 740, width: 676, height: 575,
  plotLeft: 71.7, plotRight: 647.4, plotTop: 94.3, plotBottom: 522,
  xMin: -5.37, xMax: 5.42, yMin: -0.137, yMax: 3.39, yTicks: [0, 0.5, 1, 1.5, 2, 2.5, 3],
  red: redF, black: blackF,
  logX: 323, logY: 556, foldX: 343, foldY: 548, yLabelX: 26, yLabelY: 344
});
</script>
</body>
</html>
